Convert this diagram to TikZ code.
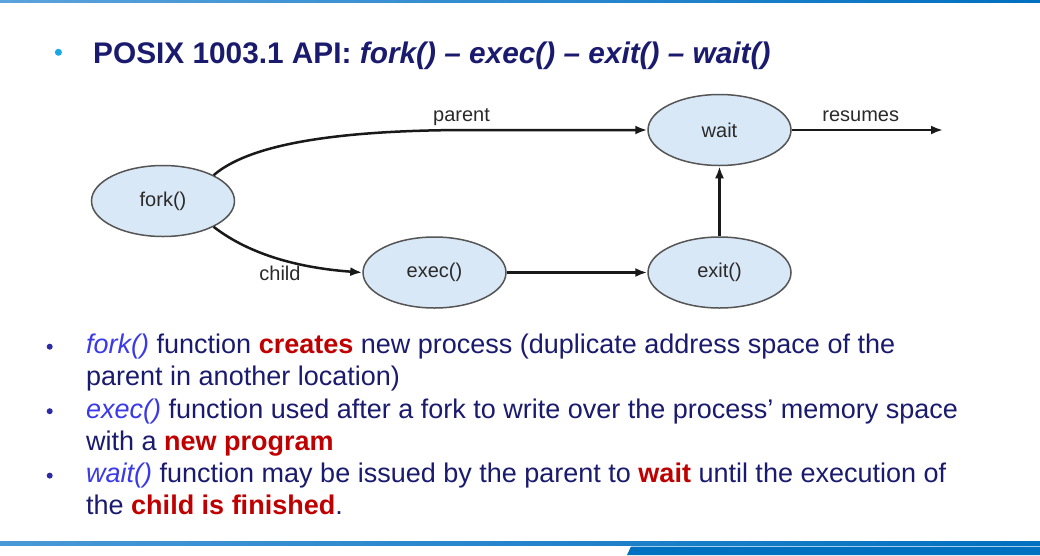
\documentclass[tikz,border=0pt]{standalone}
\usepackage{fontspec}
\setmainfont{Liberation Sans}
\usetikzlibrary{shapes.geometric,arrows.meta}
\definecolor{navy}{HTML}{1A1A6E}
\definecolor{fnblue}{HTML}{3A3AE8}
\definecolor{hlred}{HTML}{C00000}
\definecolor{ellfill}{HTML}{D9E8F6}
\definecolor{ellline}{HTML}{555555}
\definecolor{dtext}{HTML}{2A2A2A}
\definecolor{barblue}{HTML}{0070C0}
\definecolor{barlight}{HTML}{5BA3DD}
\definecolor{titlebullet}{HTML}{1AA7E8}
\definecolor{bodybullet}{HTML}{2B2BA8}
\begin{document}
\begin{tikzpicture}[x=1pt,y=-1pt,
 ell/.style={ellipse,draw=ellline,line width=1.5pt,fill=ellfill,minimum width=143pt,minimum height=71pt,inner sep=0pt,font=\fontsize{20}{24}\selectfont,text=dtext},
 conn/.style={line width=2.5pt,draw=black!90,-{Latex[length=12pt,width=9pt]}},
 lbl/.style={anchor=base,font=\fontsize{20}{24}\selectfont,text=dtext,inner sep=0pt},
 body/.style={anchor=base west,inner sep=0pt,font=\fontsize{27}{32}\selectfont,text=navy},
 dot/.style={circle,fill=bodybullet,inner sep=0pt,minimum size=6pt}
]
\useasboundingbox (0,0) rectangle (1040,555);
\fill[white] (0,0) rectangle (1040,555);
\shade[left color=barlight,right color=barblue] (0,0) rectangle (1040,2.5);
\shade[left color=barlight!80!barblue,right color=barblue] (0,541.5) rectangle (1040,545);
\fill[barblue] (631,546.5) -- (1040,546.5) -- (1040,555) -- (627,555) -- cycle;

% title
\node[dot,fill=titlebullet,minimum size=7pt] (tb) at (58.4,52.3) {};
\node[anchor=base west,inner sep=0pt,text=navy,font=\fontsize{29.8}{34}\selectfont\bfseries] (title) at (93,63.3) {POSIX 1003.1 API: \textit{fork() – exec() – exit() – wait()}};

% diagram
\node[ell] (fork) at (163,201) {fork()};
\node[ell] (exec) at (434.5,272.5) {exec()};
\node[ell] (wait) at (719.5,130) {wait};
\node[ell] (exit) at (719.5,272.5) {exit()};
\coordinate (pm) at (470,130);
\coordinate (res) at (943,130);
\draw[conn] (fork.27) .. controls (245,148) and (320,130) .. (pm) -- (wait.west);
\draw[conn] (fork.-27) .. controls (250,255) and (300,268) .. (exec.west);
\draw[conn] (exec.east) -- (exit.west);
\draw[conn] (exit.north) -- (wait.south);
\draw[conn] (wait.east) -- (res);
\node[lbl] (lp) at (461.5,121) {parent};
\node[lbl] (lc) at (280,280) {child};
\node[lbl] (lr) at (860.7,121.7) {resumes};

% bullets
\node[dot] (d1) at (49.7,346.7) {};
\node[dot] (d2) at (49.7,411.2) {};
\node[dot] (d3) at (49.7,475.6) {};
\node[body] (b1a) at (86,353.5) {\textcolor{fnblue}{\itshape fork()} function \textcolor{hlred}{\bfseries creates} new process (duplicate address space of the};
\node[body] (b1b) at (86,385.7) {parent in another location)};
\node[body] (b2a) at (86,418) {\textcolor{fnblue}{\itshape exec()} function used after a fork to write over the process’ memory space};
\node[body] (b2b) at (86,450.2) {with a \textcolor{hlred}{\bfseries new program}};
\node[body] (b3a) at (86,482.4) {\textcolor{fnblue}{\itshape wait()} function may be issued by the parent to \textcolor{hlred}{\bfseries wait} until the execution of};
\node[body] (b3b) at (86,514.6) {the \textcolor{hlred}{\bfseries child is finished}.};
\end{tikzpicture}
\end{document}
